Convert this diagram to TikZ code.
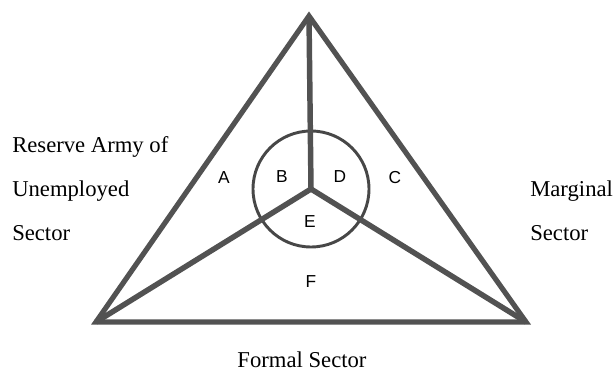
\documentclass[tikz,border=0pt]{standalone}
\usepackage{fontspec}
\setmainfont{Liberation Serif}
\newfontfamily\lettfont{Liberation Sans}
\begin{document}
\begin{tikzpicture}[x=0.75pt,y=-0.75pt,
  edge/.style={draw=black!68, line width=3.9pt, line join=miter},
  spoke/.style={draw=black!68, line width=4.1pt},
  ring/.style={draw=black!72, line width=2.2pt},
  lab/.style={font=\fontsize{17}{20}\selectfont, anchor=base west, inner sep=0pt},
  region/.style={font=\lettfont\fontsize{13}{15}\selectfont, inner sep=0pt}]
\useasboundingbox (0,0) rectangle (614,374);
\coordinate (top) at (309,16);
\coordinate (bl) at (96,322);
\coordinate (br) at (526,322);
\coordinate (ctr) at (311,189);
\node[draw=none, circle, minimum size=0pt, inner sep=0pt] (hub) at (ctr) {};
% circle
\draw[ring] (ctr) circle (58);
% spokes
\draw[spoke] (top) -- (hub.center);
\draw[spoke] (bl) -- (hub.center);
\draw[spoke] (br) -- (hub.center);
% outer triangle
\draw[edge] (top) -- (br) -- (bl) -- cycle;
% region letters
\node[region] (A) at (224,178) {A};
\node[region] (B) at (282,177) {B};
\node[region] (D) at (340,177) {D};
\node[region] (C) at (395,178) {C};
\node[region] (E) at (310,222) {E};
\node[region] (F) at (311,282) {F};
% sector labels
\node[lab] (r1) at (12,153) {Reserve Army of};
\node[lab] (r2) at (12,197) {Unemployed};
\node[lab] (r3) at (12,240) {Sector};
\node[lab] (m1) at (530,197) {Marginal};
\node[lab] (m2) at (530,240) {Sector};
\node[lab, anchor=base] (f1) at (302,367) {Formal Sector};
\end{tikzpicture}
\end{document}
